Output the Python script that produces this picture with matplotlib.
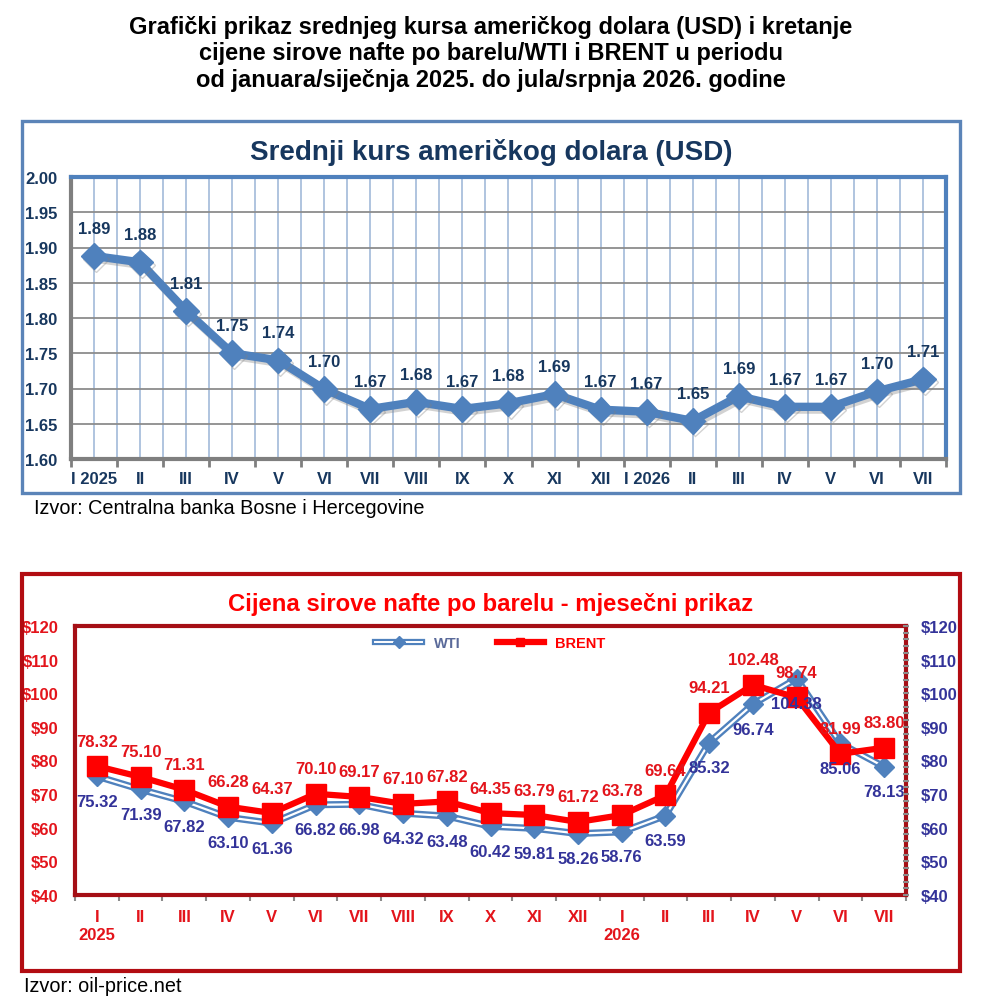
import matplotlib
matplotlib.use('Agg')
import matplotlib.pyplot as plt
from matplotlib.patches import Rectangle
from matplotlib.ticker import MultipleLocator, FixedLocator
import matplotlib.patheffects as pe

plt.rcParams['font.family'] = ['Liberation Sans', 'DejaVu Sans']

# --- data ---
usd_months = ["I 2025", "II", "III", "IV", "V", "VI", "VII", "VIII", "IX", "X", "XI",
              "XII", "I 2026", "II", "III", "IV", "V", "VI", "VII"]
usd_rate = [1.888, 1.879, 1.810, 1.750, 1.740, 1.699, 1.671, 1.681, 1.671, 1.679, 1.692,
            1.670, 1.667, 1.654, 1.689, 1.674, 1.674, 1.696, 1.713]

oil_months = ["I\n2025", "II", "III", "IV", "V", "VI", "VII", "VIII", "IX", "X", "XI",
              "XII", "I\n2026", "II", "III", "IV", "V", "VI", "VII"]
wti = [75.32, 71.39, 67.82, 63.10, 61.36, 66.82, 66.98, 64.32, 63.48, 60.42, 59.81,
       58.26, 58.76, 63.59, 85.32, 96.74, 104.38, 85.06, 78.13]
brent = [78.32, 75.10, 71.31, 66.28, 64.37, 70.10, 69.17, 67.10, 67.82, 64.35, 63.79,
         61.72, 63.78, 69.64, 94.21, 102.48, 98.74, 81.99, 83.80]

W, H = 982, 1003
fig = plt.figure(figsize=(W / 100, H / 100), dpi=100)


def fx(px):
    return px / W


def fy(py):
    return 1 - py / H


# main title
fig.text(0.5, fy(54), "Grafički prikaz srednjeg kursa američkog dolara (USD) i kretanje\n"
         "cijene sirove nafte po barelu/WTI i BRENT u periodu\n"
         "od januara/siječnja 2025. do jula/srpnja 2026. godine",
         ha='center', va='center', fontsize=17, fontweight='bold', linespacing=1.22)

# panel frames
fig.patches.append(Rectangle((fx(22), fy(494)), fx(938), (494 - 122) / H, transform=fig.transFigure,
                             fill=False, ec='#5b84b8', lw=2.4))
fig.patches.append(Rectangle((fx(22), fy(972)), fx(938), (972 - 575) / H, transform=fig.transFigure,
                             fill=False, ec='#b20c12', lw=3.0))

# ---------------- top chart ----------------
navy = '#17375e'
ax1 = fig.add_axes([fx(71), fy(460), fx(875), (460 - 178) / H])
x = list(range(len(usd_months)))
ax1.set_xlim(-0.5, len(usd_months) - 0.5)
ax1.set_ylim(1.60, 2.00)
ax1.yaxis.set_major_locator(MultipleLocator(0.05))
ax1.grid(axis='y', color='#8c8c8c', lw=1.3, zorder=0)
for i in range(len(usd_months) * 2 + 1):
    ax1.axvline(-0.5 + i * 0.5, color='#a9bfdc', lw=1.3, zorder=0)
ax1.plot(x, usd_rate, color='#4f81bd', lw=6, marker='D', ms=13, mec='#4f81bd', zorder=3,
         path_effects=[pe.SimpleLineShadow(offset=(1.5, -2), shadow_color='gray', alpha=0.35),
                       pe.Normal()])
for xi, v in zip(x, usd_rate):
    ax1.annotate(f"{v:.2f}", (xi, v), xytext=(0, 20), textcoords='offset points',
                 ha='center', va='center', fontsize=12, fontweight='bold', color=navy)
ax1.set_xticks(x)
ax1.set_xticklabels(usd_months)
ax1.xaxis.set_minor_locator(FixedLocator([i + 0.5 for i in range(-1, len(usd_months))]))
ax1.tick_params(axis='x', which='major', length=0, pad=9, labelsize=12, labelcolor=navy)
ax1.tick_params(axis='x', which='minor', length=6, width=2, color='#7f7f7f')
ax1.tick_params(axis='y', length=0, pad=10, labelsize=12, labelcolor=navy)
for t in ax1.get_xticklabels() + ax1.get_yticklabels():
    t.set_fontweight('bold')
ax1.yaxis.set_major_formatter(plt.FuncFormatter(lambda v, p: f"{v:.2f}"))
for s in ['top', 'right']:
    ax1.spines[s].set_color('#4f81bd')
    ax1.spines[s].set_linewidth(3)
for s in ['left', 'bottom']:
    ax1.spines[s].set_color('#7f7f7f')
    ax1.spines[s].set_linewidth(3)
fig.text(0.5, fy(153), "Srednji kurs američkog dolara (USD)", ha='center', va='center',
         fontsize=20, fontweight='bold', color=navy)
fig.text(fx(34), fy(508), "Izvor: Centralna banka Bosne i Hercegovine", ha='left', va='center',
         fontsize=14.3)

# ---------------- bottom chart ----------------
red = '#ff0000'
lab_red = '#e3141b'
blue_lab = '#333399'
ax2 = fig.add_axes([fx(75), fy(896), fx(831), (896 - 627) / H])
x2 = list(range(len(oil_months)))
ax2.set_xlim(-0.5, len(oil_months) - 0.5)
ax2.set_ylim(40, 120)
ax2.yaxis.set_major_locator(MultipleLocator(10))
ax2.plot(x2, wti, color='#4f81bd', lw=5, zorder=3)
ax2.plot(x2, wti, color='white', lw=1.6, zorder=3)
ax2.plot(x2, wti, ls='none', marker='D', ms=10, color='#4f81bd', zorder=4, label='_nolegend_')
ax2.plot(x2, brent, color=red, lw=4.5, marker='s', ms=14, zorder=5)
for xi, v in zip(x2, brent):
    ax2.annotate(f"{v:.2f}", (xi, v), xytext=(0, 18), textcoords='offset points',
                 ha='center', va='center', fontsize=12, fontweight='bold', color=lab_red, zorder=6)
for xi, v in zip(x2, wti):
    ax2.annotate(f"{v:.2f}", (xi, v), xytext=(0, -18), textcoords='offset points',
                 ha='center', va='center', fontsize=12, fontweight='bold', color=blue_lab, zorder=6)

# legend proxies
wti_h = [plt.Line2D([], [], color='#4f81bd', lw=4.5),
         plt.Line2D([], [], color='white', lw=1.4, marker='D', ms=6, mfc='#4f81bd', mec='#4f81bd')]
brent_h = plt.Line2D([], [], color=red, lw=4.5, marker='s', ms=6)
leg = ax2.legend([tuple(wti_h), brent_h], ["WTI", "BRENT"], loc='upper center', ncol=2,
                 frameon=False, bbox_to_anchor=(0.5, 1.01), handlelength=3.2, columnspacing=2.5,
                 prop={'weight': 'bold', 'size': 10.5})
leg.get_texts()[0].set_color('#5a6a9a')
leg.get_texts()[1].set_color(red)

ax2.set_xticks(x2)
ax2.set_xticklabels(oil_months)
ax2.xaxis.set_minor_locator(FixedLocator([i + 0.5 for i in range(-1, len(oil_months))]))
ax2.tick_params(axis='x', which='major', length=0, pad=10, labelsize=12, labelcolor=lab_red)
ax2.tick_params(axis='x', which='minor', length=4, width=1.5, color='#8c8c8c')
ax2.tick_params(axis='y', length=0, pad=12, labelsize=12, labelcolor=lab_red)
for t in ax2.get_xticklabels() + ax2.get_yticklabels():
    t.set_fontweight('bold')
    t.set_linespacing(1.3)
ax2.yaxis.set_major_formatter(plt.FuncFormatter(lambda v, p: f"${v:.0f}"))
for s in ax2.spines.values():
    s.set_color('#a50f15')
    s.set_linewidth(3)

ax2r = ax2.twinx()
ax2r.set_ylim(40, 120)
ax2r.yaxis.set_major_locator(MultipleLocator(10))
ax2r.yaxis.set_minor_locator(MultipleLocator(2))
ax2r.yaxis.set_major_formatter(plt.FuncFormatter(lambda v, p: f"${v:.0f}"))
ax2r.tick_params(axis='y', which='major', length=5, width=1.5, color='#8c8c8c', direction='inout',
                 pad=8, labelsize=12, labelcolor=blue_lab)
ax2r.tick_params(axis='y', which='minor', length=5, width=1.5, color='#8c8c8c', direction='inout')
for t in ax2r.get_yticklabels():
    t.set_fontweight('bold')
for s in ax2r.spines.values():
    s.set_visible(False)

fig.text(0.5, fy(604), "Cijena sirove nafte po barelu - mjesečni prikaz", ha='center', va='center',
         fontsize=17.2, fontweight='bold', color=red)
fig.text(fx(24), fy(987), "Izvor: oil-price.net", ha='left', va='center', fontsize=14.3)

fig.savefig('out.png', dpi=100)
plt.close(fig)
